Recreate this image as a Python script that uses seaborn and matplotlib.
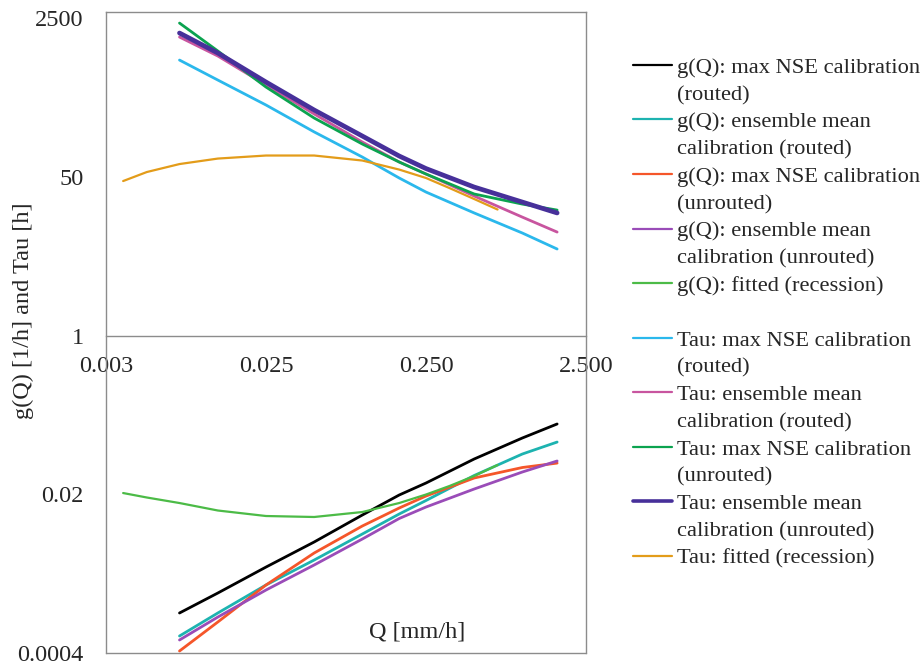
import numpy as np
import pandas as pd
import matplotlib
matplotlib.use("Agg")
import matplotlib.pyplot as plt
import seaborn as sns
from matplotlib.lines import Line2D

# ---------------- data ----------------
q_model = [0.0072, 0.0125, 0.025, 0.05, 0.1, 0.17, 0.25, 0.5, 1.0, 1.65]
q_fit = [0.0032, 0.0045, 0.0072, 0.0125, 0.025, 0.05, 0.1, 0.17, 0.25, 0.35, 0.5, 0.70]

g_maxnse_routed = [0.001072, 0.001754, 0.003325, 0.006166, 0.01199, 0.01963, 0.02638, 0.04767, 0.0800, 0.1130]
g_ensmean_routed = [0.000608, 0.001072, 0.002138, 0.003953, 0.00751, 0.01229, 0.01714, 0.03174, 0.05391, 0.0724]
g_maxnse_unrouted = [0.000420, 0.000859, 0.002137, 0.004701, 0.009145, 0.01425, 0.01915, 0.02985, 0.03866, 0.0431]
g_ensmean_unrouted = [0.000551, 0.000970, 0.001888, 0.003499, 0.006637, 0.0110, 0.0146, 0.02275, 0.0346, 0.0454]
g_fitted = [0.02061, 0.01846, 0.01611, 0.01340, 0.01170, 0.01142, 0.01291, 0.01611, 0.01987, 0.02449, 0.03135, 0.04111]

tau_maxnse_routed = [887, 542, 293, 151, 81.3, 48.5, 34.3, 20.5, 12.5, 8.43]
tau_ensmean_routed = [1564, 980, 480, 235, 117.7, 71.9, 53.5, 31.1, 18.5, 12.8]
tau_maxnse_unrouted = [2208, 1109, 456, 212.6, 112.0, 71.9, 53.5, 32.7, 25.5, 22.0]
tau_ensmean_unrouted = [1727, 1055, 516, 259, 136.4, 83.4, 61.2, 38.8, 26.8, 20.5]
tau_fitted = [45.0, 56.2, 68.4, 78.3, 84.4, 84.4, 74.6, 59.7, 48.5, 37.9, 28.9, 22.3]

series_labels = [
    "g(Q): max NSE calibration\n(routed)",
    "g(Q): ensemble mean\ncalibration (routed)",
    "g(Q): max NSE calibration\n(unrouted)",
    "g(Q): ensemble mean\ncalibration (unrouted)",
    "g(Q): fitted (recession)",
    "Tau: max NSE calibration\n(routed)",
    "Tau: ensemble mean\ncalibration (routed)",
    "Tau: max NSE calibration\n(unrouted)",
    "Tau: ensemble mean\ncalibration (unrouted)",
    "Tau: fitted (recession)",
]
series_values = [g_maxnse_routed, g_ensmean_routed, g_maxnse_unrouted, g_ensmean_unrouted, g_fitted,
                 tau_maxnse_routed, tau_ensmean_routed, tau_maxnse_unrouted, tau_ensmean_unrouted, tau_fitted]
series_x = [q_model, q_model, q_model, q_model, q_fit, q_model, q_model, q_model, q_model, q_fit]

x_ticks = [0.0025, 0.025, 0.25, 2.5]
x_ticklabels = ["0.003", "0.025", "0.250", "2.500"]
y_ticks = [0.0004, 0.02, 1, 50, 2500]
y_ticklabels = ["0.0004", "0.02", "1", "50", "2500"]

# ---------------- style ----------------
colors = ["#000000", "#1db3b0", "#f5562a", "#9a4cb8", "#4cbb47",
          "#2bb8ec", "#c8559f", "#0ba34f", "#47309a", "#e39c1a"]
widths = [2.0, 2.0, 2.0, 2.0, 1.6, 2.0, 2.0, 2.0, 3.4, 1.6]

sns.set_style("white")
plt.rcParams["font.family"] = ["Liberation Serif", "DejaVu Serif"]
FS = 17.5
FS_LEG = 16.2
GRAY = "#8c8c8c"

fig = plt.figure(figsize=(9.23, 6.68), dpi=100)
ax = fig.add_axes([106 / 923, 15 / 668, 480 / 923, 641 / 668])

frames = []
for lab, xs, ys in zip(series_labels, series_x, series_values):
    frames.append(pd.DataFrame({"Q": xs, "val": ys, "series": lab}))
df = pd.concat(frames, ignore_index=True)

for lab, c, w in zip(series_labels, colors, widths):
    sub = df[df["series"] == lab]
    sns.lineplot(data=sub, x="Q", y="val", color=c, linewidth=w, ax=ax,
                 legend=False, sort=False, estimator=None)

ax.set_xscale("log")
ax.set_yscale("log")
ax.set_xlim(0.0025, 2.5)
ax.set_ylim(0.0004, 2900)
ax.set_xticks(x_ticks)
ax.set_xticklabels(x_ticklabels)
ax.set_yticks(y_ticks)
ax.set_yticklabels(y_ticklabels)
ax.minorticks_off()

for s in ax.spines.values():
    s.set_color(GRAY)
    s.set_linewidth(1.0)
    s.set_visible(True)
ax.spines["bottom"].set_position(("data", 1))
ax.axhline(0.0004, color=GRAY, lw=1.0, clip_on=False)

ax.tick_params(axis="y", direction="out", length=6, width=1, color=GRAY, pad=10, labelsize=FS)
ax.tick_params(axis="x", direction="out", length=5, width=1, color=GRAY, pad=10, labelsize=FS)
ax.set_xlabel("Q [mm/h]", fontsize=FS)
ax.xaxis.set_label_coords(0.649, 0.033)
ax.xaxis.label.set_va("center")
ax.set_ylabel("g(Q) [1/h] and Tau [h]", fontsize=FS)
ax.yaxis.set_label_coords(-0.150, 0.534)

# ---------------- legend (first line carries the handle) ----------------
handles, labels = [], []
for i, (lab, c, w) in enumerate(zip(series_labels, colors, widths)):
    lines = lab.split("\n")
    lw_leg = 2.6 if w > 3 else 1.6
    handles.append(Line2D([], [], color=c, lw=lw_leg))
    labels.append(lines[0])
    for extra in lines[1:]:
        handles.append(Line2D([], [], color="none", lw=0))
        labels.append(extra)
    if i == 4:
        handles.append(Line2D([], [], color="none", lw=0))
        labels.append(" ")

leg = fig.legend(handles, labels, loc="upper left", bbox_to_anchor=(633 / 923, 1 - 57 / 668),
                 frameon=False, fontsize=FS_LEG, borderpad=0, borderaxespad=0,
                 handlelength=1.73, handletextpad=0.22, labelspacing=0.29)

fig.savefig("out.png", dpi=100)
